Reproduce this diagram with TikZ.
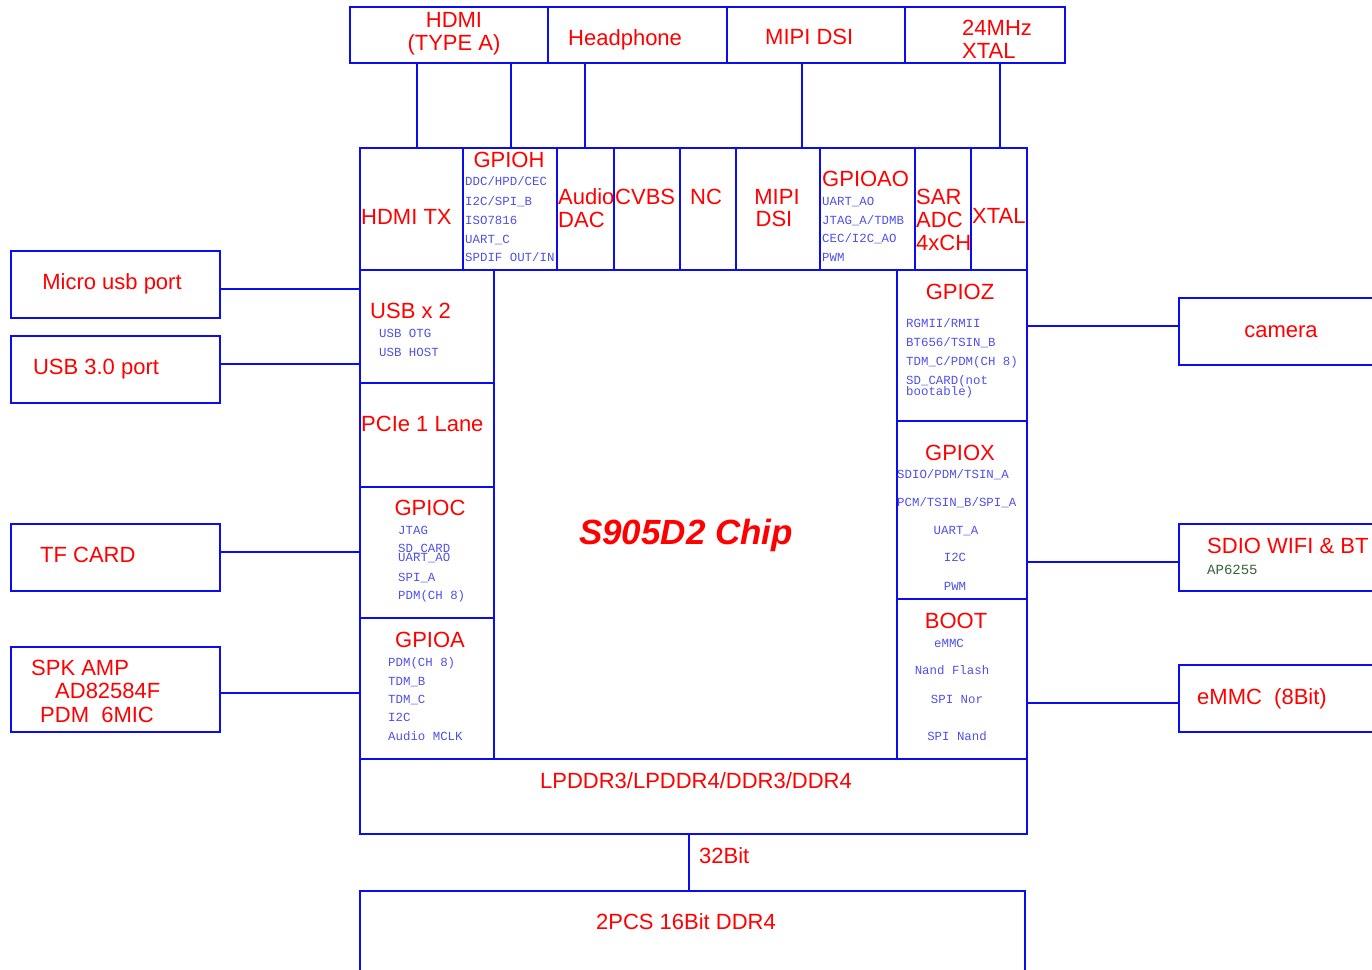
\documentclass[tikz,border=0pt]{standalone}
\usepackage{fontspec}
\setmainfont{Liberation Sans}
\newfontfamily\monof{Liberation Mono}
\definecolor{lineblue}{RGB}{12,12,240}
\definecolor{labred}{RGB}{255,0,0}
\definecolor{smallblue}{RGB}{80,80,232}
\definecolor{partgreen}{RGB}{51,102,51}
\newcommand\rbox[5]{\node[box,minimum width={#4-#2},minimum height={#5-#3}] (#1) at ({(#2+#4)/2},{(#3+#5)/2}) {};}
\tikzset{
  box/.style={draw=lineblue,line width=2.6pt,inner sep=0pt,outer sep=0pt},
  conn/.style={draw=lineblue,line width=2.2pt},
  lab/.style={font=\fontsize{22}{24}\selectfont,text=labred,inner sep=0pt,text height=15.8pt,text depth=0pt},
  sm/.style={font=\monof\fontsize{12.4}{14}\selectfont,text=smallblue,inner sep=0pt,text height=7.6pt,text depth=0pt},
}
\begin{document}
\begin{tikzpicture}[x=1pt,y=-1pt]
\useasboundingbox (0,0) rectangle (1372,969);
% top external boxes
\rbox{hdmi}{350}{7}{548}{63}
\rbox{headph}{548}{7}{727}{63}
\rbox{mipi}{727}{7}{905}{63}
\rbox{xtalx}{905}{7}{1065}{63}
\node[lab] (t1) at (454,20) {HDMI};
\node[lab] (t2) at (454,43) {(TYPE A)};
\node[lab,anchor=west] (t3) at (568,38) {Headphone};
\node[lab,anchor=west] (t4) at (765,37) {MIPI DSI};
\node[lab,anchor=west] (t5) at (962,28) {24MHz};
\node[lab,anchor=west] (t6) at (962,51) {XTAL};
% chip top row
\rbox{hdmitx}{360}{148}{463}{270}
\rbox{gpioh}{463}{148}{557}{270}
\rbox{adac}{557}{148}{614}{270}
\rbox{cvbs}{614}{148}{680}{270}
\rbox{nc}{680}{148}{736}{270}
\rbox{mipidsi}{736}{148}{820}{270}
\rbox{gpioao}{820}{148}{915}{270}
\rbox{sar}{915}{148}{971}{270}
\rbox{xtal}{971}{148}{1027}{270}
\node[lab,anchor=west] (a1) at (361,217) {HDMI TX};
\node[lab] (a2) at (509,160) {GPIOH};
\node[sm,anchor=west] (a3) at (465,182) {DDC/HPD/CEC};
\node[sm,anchor=west] (a4) at (465,202) {I2C/SPI\_B};
\node[sm,anchor=west] (a5) at (465,221) {ISO7816};
\node[sm,anchor=west] (a6) at (465,240) {UART\_C};
\node[sm,anchor=west] (a7) at (465,258) {SPDIF OUT/IN};
\node[lab,anchor=west] (a8) at (558,197) {Audio};
\node[lab,anchor=west] (a9) at (558,220) {DAC};
\node[lab,anchor=west] (a10) at (615,197) {CVBS};
\node[lab,anchor=west] (a11) at (690,197) {NC};
\node[lab] (a12) at (777,197) {MIPI};
\node[lab] (a13) at (774,219) {DSI};
\node[lab,anchor=west] (a14) at (822,179) {GPIOAO};
\node[sm,anchor=west] (a15) at (822,202) {UART\_AO};
\node[sm,anchor=west] (a16) at (822,221) {JTAG\_A/TDMB};
\node[sm,anchor=west] (a17) at (822,239) {CEC/I2C\_AO};
\node[sm,anchor=west] (a18) at (822,258) {PWM};
\node[lab,anchor=west] (a19) at (916,197) {SAR};
\node[lab,anchor=west] (a20) at (916,220) {ADC};
\node[lab,anchor=west] (a21) at (916,243) {4xCH};
\node[lab,anchor=west] (a22) at (972,216) {XTAL};
% chip left column
\rbox{usbx}{360}{270}{494}{383}
\rbox{pcie}{360}{383}{494}{487}
\rbox{gpioc}{360}{487}{494}{618}
\rbox{gpioa}{360}{618}{494}{759}
\node[lab,anchor=west] (b1) at (370,311) {USB x 2};
\node[sm,anchor=west] (b2) at (379,334) {USB OTG};
\node[sm,anchor=west] (b3) at (379,353) {USB HOST};
\node[lab,anchor=west] (b4) at (361,424) {PCIe 1 Lane};
\node[lab] (b5) at (430,508) {GPIOC};
\node[sm,anchor=west] (b6) at (398,531) {JTAG};
\node[sm,anchor=west] (b7) at (398,549) {SD\_CARD};
\node[sm,anchor=west] (b8) at (398,558) {UART\_AO};
\node[sm,anchor=west] (b9) at (398,578) {SPI\_A};
\node[sm,anchor=west] (b10) at (398,596) {PDM(CH 8)};
\node[lab] (b11) at (430,640) {GPIOA};
\node[sm,anchor=west] (b12) at (388,663) {PDM(CH 8)};
\node[sm,anchor=west] (b13) at (388,682) {TDM\_B};
\node[sm,anchor=west] (b14) at (388,700) {TDM\_C};
\node[sm,anchor=west] (b15) at (388,718) {I2C};
\node[sm,anchor=west] (b16) at (388,737) {Audio MCLK};
% chip centre
\rbox{core}{494}{270}{897}{759}
\node[font=\bfseries\itshape\fontsize{35}{38}\selectfont,text=labred,inner sep=0pt] (chip) at (686,535) {S905D2 Chip};
% chip right column
\rbox{gpioz}{897}{270}{1027}{421}
\rbox{gpiox}{897}{421}{1027}{599}
\rbox{boot}{897}{599}{1027}{759}
\node[lab] (c1) at (960,292) {GPIOZ};
\node[sm,anchor=west] (c2) at (906,324) {RGMII/RMII};
\node[sm,anchor=west] (c3) at (906,343) {BT656/TSIN\_B};
\node[sm,anchor=west] (c4) at (906,362) {TDM\_C/PDM(CH 8)};
\node[sm,anchor=west] (c5) at (906,381) {SD\_CARD(not};
\node[sm,anchor=west] (c6) at (906,392) {bootable)};
\node[lab] (c7) at (960,453) {GPIOX};
\node[sm,anchor=west] (c8) at (897,475) {SDIO/PDM/TSIN\_A};
\node[sm,anchor=west] (c9) at (897,503) {PCM/TSIN\_B/SPI\_A};
\node[sm] (c10) at (956,531) {UART\_A};
\node[sm] (c11) at (955,558) {I2C};
\node[sm] (c12) at (955,587) {PWM};
\node[lab] (c13) at (956,621) {BOOT};
\node[sm] (c14) at (949,644) {eMMC};
\node[sm] (c15) at (952,671) {Nand Flash};
\node[sm] (c16) at (957,700) {SPI Nor};
\node[sm] (c17) at (957,737) {SPI Nand};
% memory
\rbox{lpddr}{360}{759}{1027}{834}
\node[lab] (m1) at (696,781) {LPDDR3/LPDDR4/DDR3/DDR4};
\rbox{ddr}{360}{891}{1025}{1010}
\node[lab] (m2) at (686,922) {2PCS 16Bit DDR4};
\draw[conn] (lpddr.south -| 689,0) -- (ddr.north -| 689,0);
\node[lab,anchor=west] (m3) at (699,856) {32Bit};
% left external boxes
\rbox{micro}{11}{251}{220}{318}
\rbox{usb3}{11}{336}{220}{403}
\rbox{tf}{11}{524}{220}{591}
\rbox{spk}{11}{647}{220}{732}
\node[lab] (l1) at (112,282) {Micro usb port};
\node[lab] (l2) at (96,367) {USB 3.0 port};
\node[lab,anchor=west] (l3) at (40,555) {TF CARD};
\node[lab,anchor=west] (l4) at (31,668) {SPK AMP};
\node[lab,anchor=west] (l5) at (55,691) {AD82584F};
\node[lab,anchor=west] (l6) at (40,715) {PDM\ \ 6MIC};
% right external boxes
\rbox{cam}{1179}{298}{1400}{365}
\rbox{wifi}{1179}{524}{1400}{591}
\rbox{emmc}{1179}{665}{1400}{732}
\node[lab] (r1) at (1281,330) {camera};
\node[lab,anchor=west] (r2) at (1207,546) {SDIO WIFI \& BT};
\node[sm,anchor=west,text=partgreen,font=\monof\fontsize{14}{16}\selectfont] (r3) at (1207,571) {AP6255};
\node[lab,anchor=west] (r4) at (1197,697) {eMMC\ \ (8Bit)};
% connectors top
\draw[conn] (hdmi.south -| 417,0) -- (hdmitx.north -| 417,0);
\draw[conn] (hdmi.south -| 511,0) -- (gpioh.north -| 511,0);
\draw[conn] (headph.south -| 585,0) -- (adac.north -| 585,0);
\draw[conn] (mipi.south -| 802,0) -- (mipidsi.north -| 802,0);
\draw[conn] (xtalx.south -| 1000,0) -- (xtal.north -| 1000,0);
% connectors left
\draw[conn] (micro.east |- 0,289) -- (usbx.west |- 0,289);
\draw[conn] (usb3.east |- 0,364) -- (usbx.west |- 0,364);
\draw[conn] (tf.east |- 0,552) -- (gpioc.west |- 0,552);
\draw[conn] (spk.east |- 0,693) -- (gpioa.west |- 0,693);
% connectors right
\draw[conn] (gpioz.east |- 0,326) -- (cam.west |- 0,326);
\draw[conn] (gpiox.east |- 0,562) -- (wifi.west |- 0,562);
\draw[conn] (boot.east |- 0,703) -- (emmc.west |- 0,703);
\end{tikzpicture}
\end{document}
